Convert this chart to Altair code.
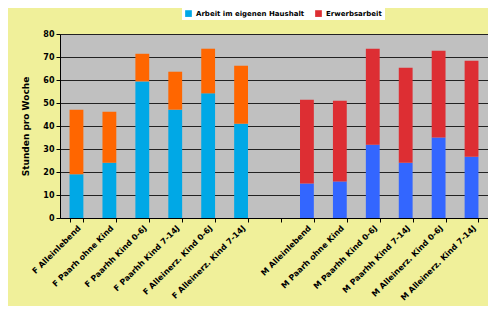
import altair as alt
import pandas as pd

categories = [
    "F Alleinlebend", "F Paarh ohne Kind", "F Paarhh Kind 0-6J", "F Paarhh Kind 7-14J",
    "F Alleinerz. Kind 0-6J", "F Alleinerz. Kind 7-14J", " ",
    "M Alleinlebend", "M Paarh ohne Kind", "M Paarhh Kind 0-6J", "M Paarhh Kind 7-14J",
    "M Alleinerz. Kind 0-6J", "M Alleinerz. Kind 7-14J",
]
haushalt = [19, 24, 59.4, 47.1, 54.2, 41, None, 15, 15.9, 31.9, 24, 35, 26.6]
total = [47.1, 46.2, 71.4, 63.6, 73.6, 66.2, None, 51.4, 51, 73.6, 65.3, 72.7, 68.4]

series_names = ["Arbeit im eigenen Haushalt", "Erwerbsarbeit", "F Erwerbsarbeit", "M Haushalt"]
series_colors = ["#00a8e6", "#dd2e33", "#ff6600", "#3366ff"]

rows = []
for c, h, t in zip(categories, haushalt, total):
    if h is None:
        continue
    female = c.startswith("F")
    rows.append({"cat": c, "val": h, "ord": 0,
                 "key": "Arbeit im eigenen Haushalt" if female else "M Haushalt"})
    rows.append({"cat": c, "val": round(t - h, 2), "ord": 1,
                 "key": "F Erwerbsarbeit" if female else "Erwerbsarbeit"})
df = pd.DataFrame(rows)

font = "DejaVu Sans"

chart = alt.Chart(df).mark_bar().encode(
    x=alt.X("cat:N", sort=categories,
            scale=alt.Scale(domain=categories, paddingInner=0.58, paddingOuter=0.29),
            axis=alt.Axis(title=None, labelAngle=-45, tickBand="extent",
                          labelFont=font, labelFontSize=8, labelFontWeight="bold",
                          labelColor="#000", domainColor="#000", tickColor="#000",
                          tickSize=4, labelPadding=2, labelOverlap=False)),
    y=alt.Y("val:Q", stack="zero",
            scale=alt.Scale(domain=[0, 80]),
            axis=alt.Axis(title="Stunden pro Woche", values=list(range(0, 81, 10)),
                          titleFont=font, titleFontSize=9, titleFontWeight="bold",
                          titleColor="#000", titlePadding=12,
                          labelFont=font, labelFontSize=8, labelFontWeight="bold",
                          labelColor="#000", domainColor="#000", tickColor="#000",
                          tickSize=4, gridColor="#222", gridWidth=1)),
    color=alt.Color("key:N",
                    scale=alt.Scale(domain=series_names, range=series_colors),
                    legend=alt.Legend(values=["Arbeit im eigenen Haushalt", "Erwerbsarbeit"],
                                      title=None, orient="none", legendX=122, legendY=-27,
                                      direction="horizontal", fillColor="white",
                                      padding=3, symbolType="square", symbolSize=45,
                                      symbolStrokeWidth=0, labelFont=font,
                                      labelFontSize=7, labelFontWeight="bold",
                                      labelColor="#000", columnPadding=10)),
    order=alt.Order("ord:Q"),
).properties(
    width=428, height=184,
    autosize=alt.AutoSizeParams(type="none"),
    padding={"left": 52, "top": 26, "right": 0, "bottom": 88},
    background="#f0f09a",
).configure_view(
    fill="#c0c0c0", stroke="#808080", strokeWidth=1,
)

chart.save("out.html", embed_options={"renderer": "svg", "actions": False})
